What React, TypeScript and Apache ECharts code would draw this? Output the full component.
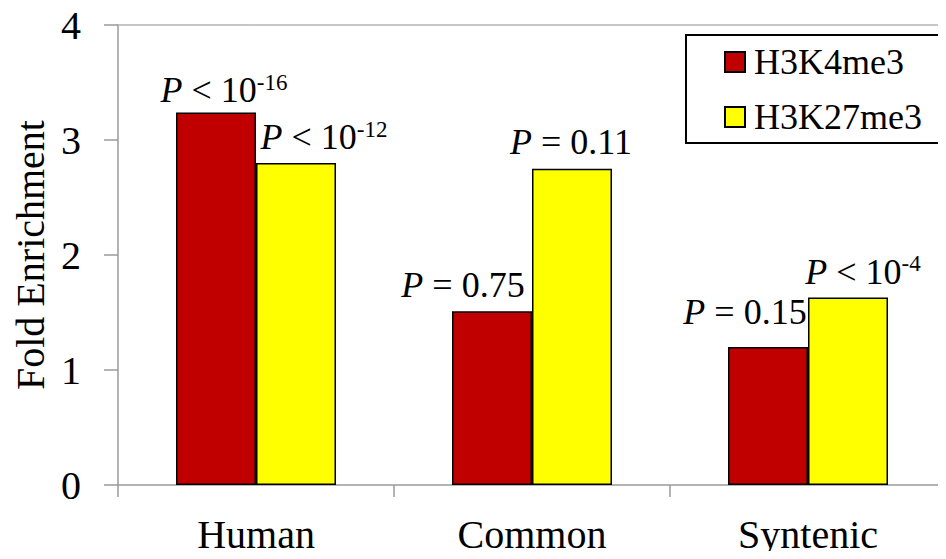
import React, { useEffect, useRef } from "react";
import * as echarts from "echarts";

const categories = ["Human", "Common", "Syntenic"];
const h3k4me3 = [3.24, 1.51, 1.2];
const h3k27me3 = [2.8, 2.75, 1.63];
const yTicks = [0, 1, 2, 3, 4];
// P-value annotations: [relation, value, exponent or ""]
const pK4 = [
  ["<", "10", "-16"],
  ["=", "0.75", ""],
  ["=", "0.15", ""],
];
const pK27 = [
  ["<", "10", "-12"],
  ["=", "0.11", ""],
  ["<", "10", "-4"],
];
// label offsets (layout only)
const offK4 = [[8, 4], [-29, 0], [-23, -9]];
const offK27 = [[28, 0], [-1, -1], [15, 0]];

const FONT = "Liberation Serif";

function pText(p: string[]) {
  return "{i|P}{n| " + p[0] + " " + p[1] + "}" + (p[2] ? "{s|" + p[2] + "}" : "");
}

const rich = {
  i: { fontStyle: "italic", fontSize: 36, fontFamily: FONT, color: "#000" },
  n: { fontSize: 36, fontFamily: FONT, color: "#000" },
  s: { fontSize: 23, fontFamily: FONT, color: "#000", lineHeight: 23, padding: [0, 0, 16, 0] },
};

function buildData(vals: number[], ps: string[][], offs: number[][]) {
  return vals.map((v, k) => ({
    value: v,
    label: { formatter: pText(ps[k]), offset: offs[k] },
  }));
}

export default function App() {
  const ref = useRef<HTMLDivElement>(null);
  useEffect(() => {
    if (!ref.current) return;
    const chart = echarts.init(ref.current, null, { renderer: "svg" });
    const axisColor = "#9a9a9a";
    chart.setOption({
      animation: false,
      backgroundColor: "#ffffff",
      textStyle: { fontFamily: FONT, fontSize: 36 },
      grid: { left: 118, top: 25, width: 838, bottom: 74, containLabel: false },
      legend: {
        orient: "vertical",
        left: 686,
        top: 35,
        padding: [7, 70, 6, 38],
        itemGap: 15,
        itemWidth: 20,
        itemHeight: 20,
        icon: "rect",
        borderColor: "#000",
        borderWidth: 2,
        textStyle: { fontSize: 36, fontFamily: FONT, color: "#000", lineHeight: 40, padding: [0, 0, 0, 4] },
        data: ["H3K4me3", "H3K27me3"],
      },
      xAxis: [
        {
          type: "category",
          data: categories,
          position: "bottom",
          axisLine: { lineStyle: { color: axisColor, width: 1.5 } },
          axisTick: { show: true, length: 12, lineStyle: { color: axisColor, width: 1.5 } },
          axisLabel: { fontSize: 40, fontFamily: FONT, color: "#000", margin: 29 },
        },
        {
          type: "category",
          data: categories,
          position: "top",
          axisLine: { show: true, lineStyle: { color: "#b4b4b4", width: 1.5 } },
          axisTick: { show: false },
          axisLabel: { show: false },
        },
      ],
      yAxis: {
        type: "value",
        min: yTicks[0],
        max: yTicks[yTicks.length - 1],
        interval: 1,
        name: "Fold Enrichment",
        nameLocation: "middle",
        nameGap: 50,
        nameTextStyle: { fontSize: 40, fontFamily: FONT, color: "#000" },
        axisLine: { show: true, lineStyle: { color: axisColor, width: 1.5 } },
        axisTick: { show: true, length: 14, lineStyle: { color: axisColor, width: 1.5 } },
        axisLabel: { fontSize: 40, fontFamily: FONT, color: "#000", margin: 37 },
        splitLine: { show: false },
      },
      series: [
        {
          name: "H3K4me3",
          type: "bar",
          barWidth: 80,
          barGap: "0%",
          itemStyle: { color: "#C00000", borderColor: "#000", borderWidth: 1.5 },
          label: { show: true, position: "top", distance: 8, fontFamily: FONT, rich },
          data: buildData(h3k4me3, pK4, offK4),
        },
        {
          name: "H3K27me3",
          type: "bar",
          barWidth: 80,
          barGap: "0%",
          itemStyle: { color: "#FFFF00", borderColor: "#000", borderWidth: 1.5 },
          label: { show: true, position: "top", distance: 8, fontFamily: FONT, rich },
          data: buildData(h3k27me3, pK27, offK27),
        },
      ],
    });
    return () => chart.dispose();
  }, []);
  return <div ref={ref} style={{ width: 946, height: 559, margin: -8 }} />;
}
